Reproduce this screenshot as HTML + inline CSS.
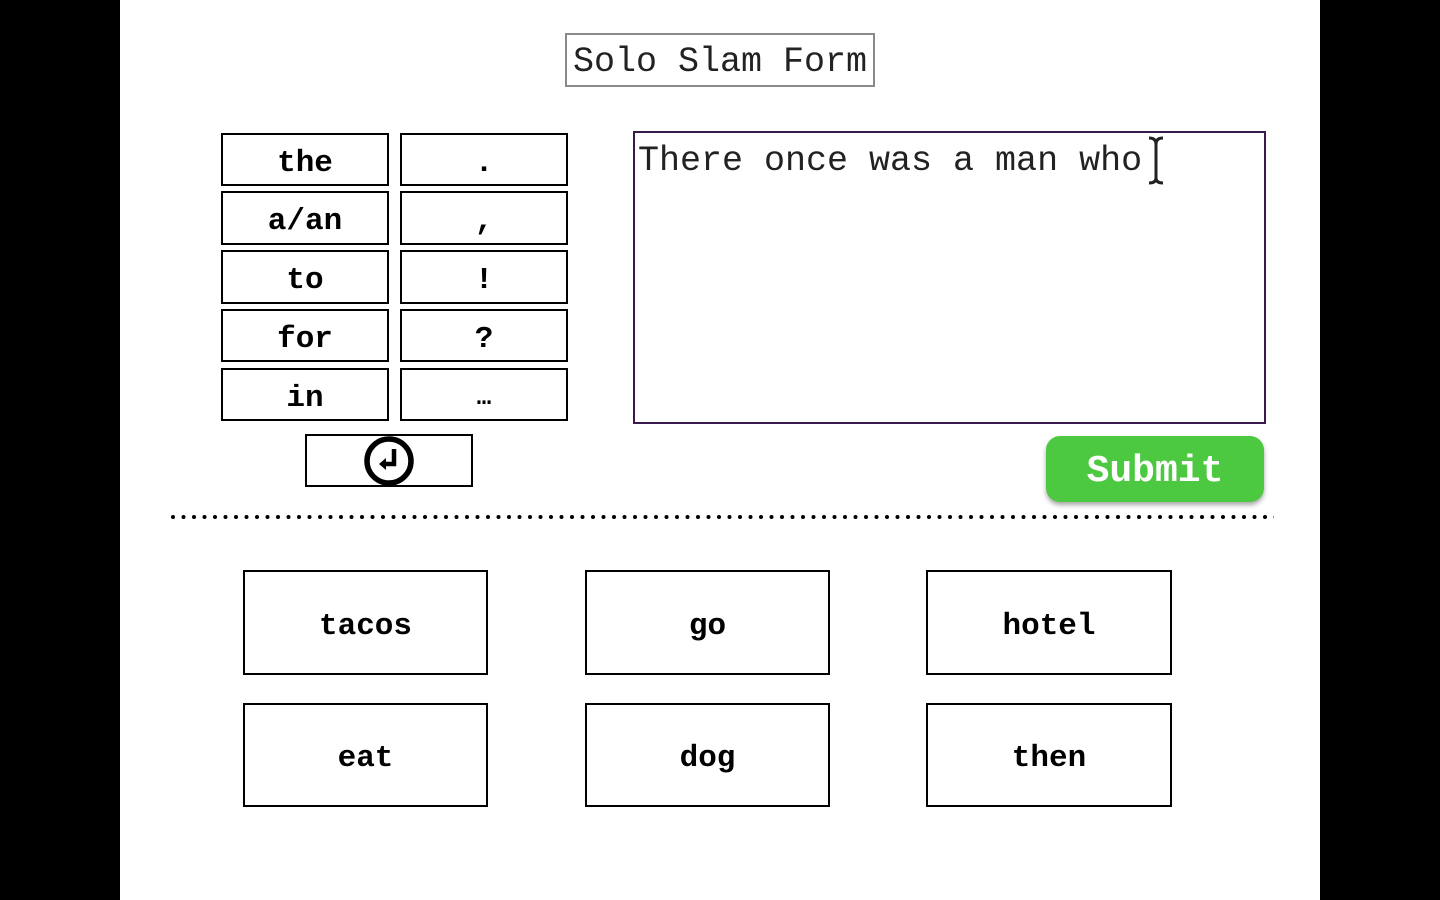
<!DOCTYPE html>
<html><head><meta charset="utf-8"><style>
*{margin:0;padding:0;box-sizing:border-box}
body{width:1440px;height:900px;background:#000;position:relative;overflow:hidden;font-family:"Liberation Mono","Courier New",monospace}
#page{position:absolute;left:120px;top:0;width:1200px;height:900px;background:#fff}
.b{position:absolute;border:2px solid #000;background:#fff;display:flex;align-items:center;justify-content:center;font-weight:bold;color:#000;padding-top:7px}
.s{font-size:31px}
.l{font-size:31px}
</style></head><body>
<div id="page"></div>
<div style="position:absolute;left:565px;top:33px;width:310px;height:54px;border:2px solid #8a8a8a;font-size:35px;display:flex;align-items:center;justify-content:center;color:#222;padding-top:3px">Solo Slam Form</div>

<div class="b s" style="left:221px;top:133px;width:168px;height:53px">the</div>
<div class="b s" style="left:400px;top:133px;width:168px;height:53px">.</div>
<div class="b s" style="left:221px;top:191px;width:168px;height:54px">a/an</div>
<div class="b s" style="left:400px;top:191px;width:168px;height:54px">,</div>
<div class="b s" style="left:221px;top:250px;width:168px;height:54px">to</div>
<div class="b s" style="left:400px;top:250px;width:168px;height:54px">!</div>
<div class="b s" style="left:221px;top:309px;width:168px;height:53px">for</div>
<div class="b s" style="left:400px;top:309px;width:168px;height:53px">?</div>
<div class="b s" style="left:221px;top:368px;width:168px;height:53px">in</div>
<div class="b s" style="left:400px;top:368px;width:168px;height:53px;font-size:24px">…</div>
<div class="b" style="left:305px;top:434px;width:168px;height:53px;padding-top:0">
<svg width="52" height="52" viewBox="0 0 52 52"><circle cx="26" cy="26" r="22" fill="none" stroke="#000" stroke-width="5.5"/><path d="M31 14 V29 H20" fill="none" stroke="#000" stroke-width="4.5"/><path d="M16 29 L23 23 L23 35 Z" fill="#000"/></svg></div>

<div style="position:absolute;left:633px;top:131px;width:633px;height:293px;border:2px solid #3a1a4a;background:#fff"></div>
<div style="position:absolute;left:638px;top:141px;font-size:35px;color:#222;white-space:pre;line-height:40px">There once was a man who</div>
<svg style="position:absolute;left:1144px;top:136px" width="24" height="50"><path d="M5 2 Q12 2 12 8 V42 Q12 47 5 47 M19 2 Q12 2 12 8 M12 42 Q12 47 19 47" fill="none" stroke="#222" stroke-width="3"/></svg>

<div style="position:absolute;left:1046px;top:436px;width:218px;height:66px;background:#4cc940;border-radius:14px;box-shadow:0 3px 5px rgba(0,0,0,.35);color:#fff;font-weight:bold;font-size:38px;display:flex;align-items:center;justify-content:center;padding-top:5px">Submit</div>

<svg style="position:absolute;left:160px;top:510px" width="1130" height="14"><defs><pattern id="d" x="0" y="0" width="10.5" height="14" patternUnits="userSpaceOnUse"><circle cx="13" cy="7" r="2" fill="#000"/><circle cx="2.5" cy="7" r="2" fill="#000"/></pattern></defs><rect x="10" y="0" width="1104" height="14" fill="url(#d)"/></svg>

<div class="b l" style="left:243px;top:570px;width:245px;height:105px">tacos</div>
<div class="b l" style="left:585px;top:570px;width:245px;height:105px">go</div>
<div class="b l" style="left:926px;top:570px;width:246px;height:105px">hotel</div>
<div class="b l" style="left:243px;top:703px;width:245px;height:104px">eat</div>
<div class="b l" style="left:585px;top:703px;width:245px;height:104px">dog</div>
<div class="b l" style="left:926px;top:703px;width:246px;height:104px">then</div>
</body></html>
